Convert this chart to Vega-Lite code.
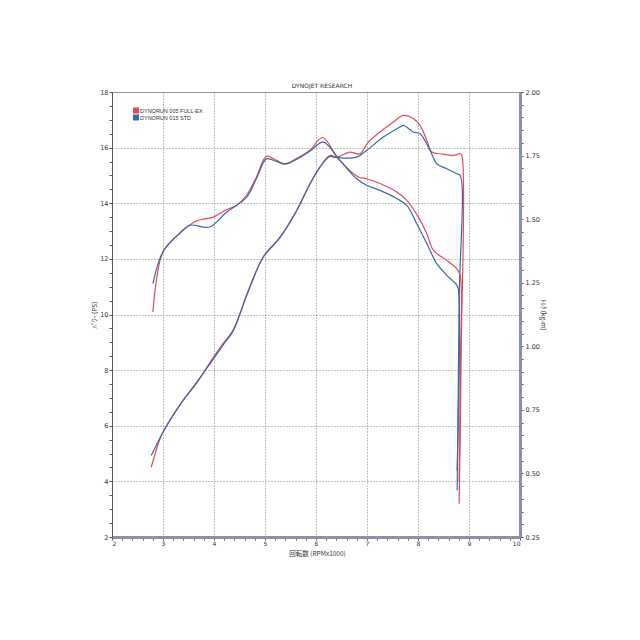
{
  "$schema": "https://vega.github.io/schema/vega-lite/v6.json",
  "autosize": "none",
  "width": 408,
  "height": 445,
  "padding": {"left": 112, "top": 92, "right": 120, "bottom": 103},
  "background": "white",
  "title": {"text": "DYNOJET RESEARCH", "fontSize": 6, "fontWeight": "normal", "font": "DejaVu Sans", "color": "#333", "offset": 0, "anchor": "middle", "dx": 6},
  "config": {
    "view": {"stroke": "#999", "strokeWidth": 1},
    "axis": {"labelFont": "DejaVu Sans", "titleFont": "Noto Sans CJK JP", "labelFontSize": 6.5, "titleFontSize": 6.5, "titleFontWeight": "normal", "labelColor": "#333", "titleColor": "#333", "gridColor": "#888", "gridDash": [1, 2], "gridWidth": 1, "labelOverlap": false}
  },
  "datasets": {
    "power": [
      {"run": "DYNORUN 005 FULL-EX", "i": 1, "rpm": 2.77, "ps": 4.51},
      {"run": "DYNORUN 005 FULL-EX", "i": 2, "rpm": 2.967, "ps": 5.65},
      {"run": "DYNORUN 005 FULL-EX", "i": 3, "rpm": 3.13, "ps": 6.19},
      {"run": "DYNORUN 005 FULL-EX", "i": 4, "rpm": 3.391, "ps": 6.91},
      {"run": "DYNORUN 005 FULL-EX", "i": 5, "rpm": 3.654, "ps": 7.51},
      {"run": "DYNORUN 005 FULL-EX", "i": 6, "rpm": 3.949, "ps": 8.35},
      {"run": "DYNORUN 005 FULL-EX", "i": 7, "rpm": 4.177, "ps": 8.95},
      {"run": "DYNORUN 005 FULL-EX", "i": 8, "rpm": 4.373, "ps": 9.43},
      {"run": "DYNORUN 005 FULL-EX", "i": 9, "rpm": 4.66, "ps": 10.76},
      {"run": "DYNORUN 005 FULL-EX", "i": 10, "rpm": 4.963, "ps": 12.06},
      {"run": "DYNORUN 005 FULL-EX", "i": 11, "rpm": 5.291, "ps": 12.78},
      {"run": "DYNORUN 005 FULL-EX", "i": 12, "rpm": 5.619, "ps": 13.74},
      {"run": "DYNORUN 005 FULL-EX", "i": 13, "rpm": 5.88, "ps": 14.7},
      {"run": "DYNORUN 005 FULL-EX", "i": 14, "rpm": 6.077, "ps": 15.3},
      {"run": "DYNORUN 005 FULL-EX", "i": 15, "rpm": 6.273, "ps": 15.72},
      {"run": "DYNORUN 005 FULL-EX", "i": 16, "rpm": 6.405, "ps": 15.66},
      {"run": "DYNORUN 005 FULL-EX", "i": 17, "rpm": 6.666, "ps": 15.84},
      {"run": "DYNORUN 005 FULL-EX", "i": 18, "rpm": 6.862, "ps": 15.78},
      {"run": "DYNORUN 005 FULL-EX", "i": 19, "rpm": 7.026, "ps": 16.2},
      {"run": "DYNORUN 005 FULL-EX", "i": 20, "rpm": 7.255, "ps": 16.56},
      {"run": "DYNORUN 005 FULL-EX", "i": 21, "rpm": 7.517, "ps": 16.92},
      {"run": "DYNORUN 005 FULL-EX", "i": 22, "rpm": 7.713, "ps": 17.16},
      {"run": "DYNORUN 005 FULL-EX", "i": 23, "rpm": 7.91, "ps": 17.04},
      {"run": "DYNORUN 005 FULL-EX", "i": 24, "rpm": 8.041, "ps": 16.8},
      {"run": "DYNORUN 005 FULL-EX", "i": 25, "rpm": 8.173, "ps": 16.26},
      {"run": "DYNORUN 005 FULL-EX", "i": 26, "rpm": 8.271, "ps": 15.84},
      {"run": "DYNORUN 005 FULL-EX", "i": 27, "rpm": 8.434, "ps": 15.78},
      {"run": "DYNORUN 005 FULL-EX", "i": 28, "rpm": 8.695, "ps": 15.72},
      {"run": "DYNORUN 005 FULL-EX", "i": 29, "rpm": 8.827, "ps": 15.78},
      {"run": "DYNORUN 005 FULL-EX", "i": 30, "rpm": 8.86, "ps": 15.72},
      {"run": "DYNORUN 005 FULL-EX", "i": 31, "rpm": 8.847, "ps": 8.7},
      {"run": "DYNORUN 005 FULL-EX", "i": 32, "rpm": 8.807, "ps": 3.2},
      {"run": "DYNORUN 015 STD", "i": 1, "rpm": 2.77, "ps": 4.93},
      {"run": "DYNORUN 015 STD", "i": 2, "rpm": 2.967, "ps": 5.65},
      {"run": "DYNORUN 015 STD", "i": 3, "rpm": 3.13, "ps": 6.17},
      {"run": "DYNORUN 015 STD", "i": 4, "rpm": 3.391, "ps": 6.9},
      {"run": "DYNORUN 015 STD", "i": 5, "rpm": 3.654, "ps": 7.55},
      {"run": "DYNORUN 015 STD", "i": 6, "rpm": 3.949, "ps": 8.3},
      {"run": "DYNORUN 015 STD", "i": 7, "rpm": 4.177, "ps": 8.9},
      {"run": "DYNORUN 015 STD", "i": 8, "rpm": 4.373, "ps": 9.4},
      {"run": "DYNORUN 015 STD", "i": 9, "rpm": 4.66, "ps": 10.8},
      {"run": "DYNORUN 015 STD", "i": 10, "rpm": 4.963, "ps": 12.06},
      {"run": "DYNORUN 015 STD", "i": 11, "rpm": 5.291, "ps": 12.75},
      {"run": "DYNORUN 015 STD", "i": 12, "rpm": 5.619, "ps": 13.72},
      {"run": "DYNORUN 015 STD", "i": 13, "rpm": 5.88, "ps": 14.68},
      {"run": "DYNORUN 015 STD", "i": 14, "rpm": 6.077, "ps": 15.3},
      {"run": "DYNORUN 015 STD", "i": 15, "rpm": 6.273, "ps": 15.68},
      {"run": "DYNORUN 015 STD", "i": 16, "rpm": 6.338, "ps": 15.66},
      {"run": "DYNORUN 015 STD", "i": 17, "rpm": 6.6, "ps": 15.62},
      {"run": "DYNORUN 015 STD", "i": 18, "rpm": 6.798, "ps": 15.66},
      {"run": "DYNORUN 015 STD", "i": 19, "rpm": 6.994, "ps": 15.9},
      {"run": "DYNORUN 015 STD", "i": 20, "rpm": 7.32, "ps": 16.38},
      {"run": "DYNORUN 015 STD", "i": 21, "rpm": 7.648, "ps": 16.74},
      {"run": "DYNORUN 015 STD", "i": 22, "rpm": 7.713, "ps": 16.8},
      {"run": "DYNORUN 015 STD", "i": 23, "rpm": 7.91, "ps": 16.56},
      {"run": "DYNORUN 015 STD", "i": 24, "rpm": 8.041, "ps": 16.5},
      {"run": "DYNORUN 015 STD", "i": 25, "rpm": 8.237, "ps": 15.9},
      {"run": "DYNORUN 015 STD", "i": 26, "rpm": 8.369, "ps": 15.42},
      {"run": "DYNORUN 015 STD", "i": 27, "rpm": 8.566, "ps": 15.24},
      {"run": "DYNORUN 015 STD", "i": 28, "rpm": 8.762, "ps": 15.06},
      {"run": "DYNORUN 015 STD", "i": 29, "rpm": 8.827, "ps": 15.0},
      {"run": "DYNORUN 015 STD", "i": 30, "rpm": 8.807, "ps": 10.5},
      {"run": "DYNORUN 015 STD", "i": 31, "rpm": 8.768, "ps": 3.68}
    ],
    "torque": [
      {"run": "DYNORUN 005 FULL-EX", "i": 1, "rpm": 2.802, "kgm": 1.135},
      {"run": "DYNORUN 005 FULL-EX", "i": 2, "rpm": 2.998, "kgm": 1.371},
      {"run": "DYNORUN 005 FULL-EX", "i": 3, "rpm": 3.326, "kgm": 1.444},
      {"run": "DYNORUN 005 FULL-EX", "i": 4, "rpm": 3.654, "kgm": 1.493},
      {"run": "DYNORUN 005 FULL-EX", "i": 5, "rpm": 3.974, "kgm": 1.507},
      {"run": "DYNORUN 005 FULL-EX", "i": 6, "rpm": 4.244, "kgm": 1.537},
      {"run": "DYNORUN 005 FULL-EX", "i": 7, "rpm": 4.44, "kgm": 1.554},
      {"run": "DYNORUN 005 FULL-EX", "i": 8, "rpm": 4.637, "kgm": 1.594},
      {"run": "DYNORUN 005 FULL-EX", "i": 9, "rpm": 4.833, "kgm": 1.666},
      {"run": "DYNORUN 005 FULL-EX", "i": 10, "rpm": 5.029, "kgm": 1.747},
      {"run": "DYNORUN 005 FULL-EX", "i": 11, "rpm": 5.226, "kgm": 1.731},
      {"run": "DYNORUN 005 FULL-EX", "i": 12, "rpm": 5.389, "kgm": 1.718},
      {"run": "DYNORUN 005 FULL-EX", "i": 13, "rpm": 5.619, "kgm": 1.738},
      {"run": "DYNORUN 005 FULL-EX", "i": 14, "rpm": 5.88, "kgm": 1.771},
      {"run": "DYNORUN 005 FULL-EX", "i": 15, "rpm": 6.13, "kgm": 1.821},
      {"run": "DYNORUN 005 FULL-EX", "i": 16, "rpm": 6.436, "kgm": 1.738},
      {"run": "DYNORUN 005 FULL-EX", "i": 17, "rpm": 6.829, "kgm": 1.666},
      {"run": "DYNORUN 005 FULL-EX", "i": 18, "rpm": 6.994, "kgm": 1.659},
      {"run": "DYNORUN 005 FULL-EX", "i": 19, "rpm": 7.255, "kgm": 1.64},
      {"run": "DYNORUN 005 FULL-EX", "i": 20, "rpm": 7.583, "kgm": 1.607},
      {"run": "DYNORUN 005 FULL-EX", "i": 21, "rpm": 7.78, "kgm": 1.574},
      {"run": "DYNORUN 005 FULL-EX", "i": 22, "rpm": 8.008, "kgm": 1.508},
      {"run": "DYNORUN 005 FULL-EX", "i": 23, "rpm": 8.173, "kgm": 1.443},
      {"run": "DYNORUN 005 FULL-EX", "i": 24, "rpm": 8.303, "kgm": 1.377},
      {"run": "DYNORUN 005 FULL-EX", "i": 25, "rpm": 8.566, "kgm": 1.338},
      {"run": "DYNORUN 005 FULL-EX", "i": 26, "rpm": 8.762, "kgm": 1.305},
      {"run": "DYNORUN 005 FULL-EX", "i": 27, "rpm": 8.827, "kgm": 1.279},
      {"run": "DYNORUN 005 FULL-EX", "i": 28, "rpm": 8.83, "kgm": 0.9},
      {"run": "DYNORUN 005 FULL-EX", "i": 29, "rpm": 8.807, "kgm": 0.47},
      {"run": "DYNORUN 015 STD", "i": 1, "rpm": 2.802, "kgm": 1.246},
      {"run": "DYNORUN 015 STD", "i": 2, "rpm": 2.998, "kgm": 1.371},
      {"run": "DYNORUN 015 STD", "i": 3, "rpm": 3.326, "kgm": 1.444},
      {"run": "DYNORUN 015 STD", "i": 4, "rpm": 3.523, "kgm": 1.476},
      {"run": "DYNORUN 015 STD", "i": 5, "rpm": 3.916, "kgm": 1.469},
      {"run": "DYNORUN 015 STD", "i": 6, "rpm": 4.244, "kgm": 1.527},
      {"run": "DYNORUN 015 STD", "i": 7, "rpm": 4.637, "kgm": 1.586},
      {"run": "DYNORUN 015 STD", "i": 8, "rpm": 4.833, "kgm": 1.66},
      {"run": "DYNORUN 015 STD", "i": 9, "rpm": 5.029, "kgm": 1.737},
      {"run": "DYNORUN 015 STD", "i": 10, "rpm": 5.226, "kgm": 1.727},
      {"run": "DYNORUN 015 STD", "i": 11, "rpm": 5.389, "kgm": 1.716},
      {"run": "DYNORUN 015 STD", "i": 12, "rpm": 5.619, "kgm": 1.735},
      {"run": "DYNORUN 015 STD", "i": 13, "rpm": 5.88, "kgm": 1.767},
      {"run": "DYNORUN 015 STD", "i": 14, "rpm": 6.142, "kgm": 1.803},
      {"run": "DYNORUN 015 STD", "i": 15, "rpm": 6.469, "kgm": 1.731},
      {"run": "DYNORUN 015 STD", "i": 16, "rpm": 6.798, "kgm": 1.659},
      {"run": "DYNORUN 015 STD", "i": 17, "rpm": 6.994, "kgm": 1.633},
      {"run": "DYNORUN 015 STD", "i": 18, "rpm": 7.255, "kgm": 1.613},
      {"run": "DYNORUN 015 STD", "i": 19, "rpm": 7.583, "kgm": 1.581},
      {"run": "DYNORUN 015 STD", "i": 20, "rpm": 7.78, "kgm": 1.554},
      {"run": "DYNORUN 015 STD", "i": 21, "rpm": 7.976, "kgm": 1.482},
      {"run": "DYNORUN 015 STD", "i": 22, "rpm": 8.173, "kgm": 1.404},
      {"run": "DYNORUN 015 STD", "i": 23, "rpm": 8.369, "kgm": 1.325},
      {"run": "DYNORUN 015 STD", "i": 24, "rpm": 8.566, "kgm": 1.279},
      {"run": "DYNORUN 015 STD", "i": 25, "rpm": 8.762, "kgm": 1.24},
      {"run": "DYNORUN 015 STD", "i": 26, "rpm": 8.794, "kgm": 1.22},
      {"run": "DYNORUN 015 STD", "i": 27, "rpm": 8.768, "kgm": 0.511}
    ]
  },
  "encoding": {
    "x": {"field": "rpm", "type": "quantitative", "scale": {"domain": [2, 10], "nice": false},
      "axis": {"title": "回転数 (RPMx1000)", "titleX": 205, "titleY": 13,
        "values": [2,2.2,2.4,2.6,2.8,3,3.2,3.4,3.6,3.8,4,4.2,4.4,4.6,4.8,5,5.2,5.4,5.6,5.8,6,6.2,6.4,6.6,6.8,7,7.2,7.4,7.6,7.8,8,8.2,8.4,8.6,8.8,9,9.2,9.4,9.6,9.8,10],
        "labelExpr": "abs(datum.value - round(datum.value)) < 0.001 ? format(datum.value, 'd') : ''",
        "grid": true,
        "gridOpacity": {"condition": {"test": "abs(datum.value - round(datum.value)) < 0.001", "value": 1}, "value": 0},
        "domainColor": "#8b90a8", "domainWidth": 3, "tickColor": "#555", "tickSize": 3, "labelPadding": 0, "labelFontSize": 6}},
    "color": {"field": "run", "type": "nominal",
      "scale": {"domain": ["DYNORUN 005 FULL-EX", "DYNORUN 015 STD"], "range": ["#e04a5c", "#3a6aa6"]},
      "legend": {"title": null, "orient": "none", "legendX": 21, "legendY": 15, "symbolType": "square", "symbolSize": 9, "symbolStrokeWidth": 3, "labelFontSize": 5.5, "labelFont": "Liberation Sans", "labelColor": "#333", "rowPadding": 0, "clipHeight": 7, "labelOffset": 1, "symbolOffset": 0}},
    "order": {"field": "i", "type": "quantitative"}
  },
  "layer": [
    {
      "data": {"name": "power"},
      "mark": {"type": "line", "strokeWidth": 1.2, "clip": true, "interpolate": "catmull-rom"},
      "encoding": {
        "y": {"field": "ps", "type": "quantitative", "scale": {"domain": [2, 18], "nice": false},
          "axis": {"title": "ﾊﾟﾜｰ (PS)", "titlePadding": 2,
            "values": [2,2.5,3,3.5,4,4.5,5,5.5,6,6.5,7,7.5,8,8.5,9,9.5,10,10.5,11,11.5,12,12.5,13,13.5,14,14.5,15,15.5,16,16.5,17,17.5,18],
            "labelExpr": "abs(datum.value/2 - round(datum.value/2)) < 0.001 ? format(datum.value, 'd') : ''",
            "grid": true,
            "gridOpacity": {"condition": {"test": "abs(datum.value/2 - round(datum.value/2)) < 0.001 && datum.value > 2 && datum.value < 18", "value": 1}, "value": 0},
            "domainColor": "#555", "domainWidth": 1, "tickColor": "#555", "tickSize": 3, "labelPadding": 1}}
      }
    },
    {
      "data": {"name": "torque"},
      "mark": {"type": "line", "strokeWidth": 1.2, "clip": true, "interpolate": "catmull-rom"},
      "encoding": {
        "y": {"field": "kgm", "type": "quantitative", "scale": {"domain": [0.25, 2.0], "nice": false},
          "axis": {"orient": "right", "title": "ﾄﾙｸ (kg-m)", "titlePadding": 0, "titleAngle": 90,
            "values": [0.25,0.3,0.35,0.4,0.45,0.5,0.55,0.6,0.65,0.7,0.75,0.8,0.85,0.9,0.95,1.0,1.05,1.1,1.15,1.2,1.25,1.3,1.35,1.4,1.45,1.5,1.55,1.6,1.65,1.7,1.75,1.8,1.85,1.9,1.95,2.0],
            "labelExpr": "abs(datum.value*4 - round(datum.value*4)) < 0.001 ? format(datum.value, '.2f') : ''",
            "grid": false, "domainColor": "#8b90a8", "domainWidth": 3, "tickColor": "#555", "tickSize": 3, "labelPadding": 2}}
      }
    }
  ],
  "resolve": {"scale": {"y": "independent"}}
}
